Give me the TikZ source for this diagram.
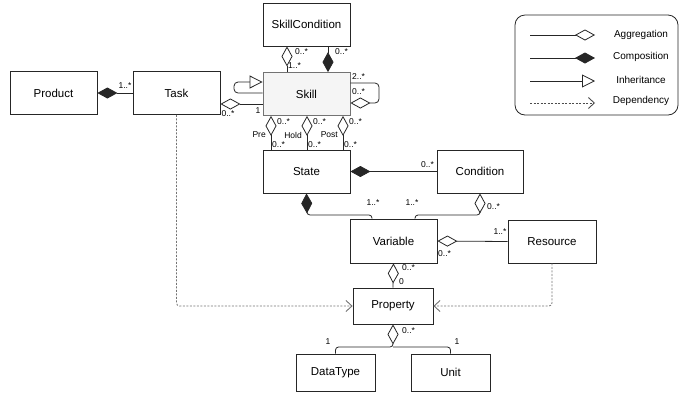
\documentclass[tikz,border=0pt]{standalone}
\usepackage{fontspec}
\setmainfont{Liberation Sans}
\usetikzlibrary{arrows.meta}

\begin{document}
\begin{tikzpicture}[x=1pt, y=-1pt,
    cls/.style={draw=black!85, line width=0.8pt, fill=white, minimum width=87pt,
      minimum height=43pt, inner sep=0pt, font=\fontsize{11.5}{13}\selectfont},
    mult/.style={inner sep=1pt, font=\fontsize{8.5}{10}\selectfont},
    legtext/.style={inner sep=1pt, font=\fontsize{10}{12}\selectfont},
    link/.style={draw=black!85, line width=0.8pt},
    agg/.style={link, -{Diamond[open, length=20pt, width=11pt]}},
    comp/.style={link, -{Diamond[length=20pt, width=11pt]}},
    inh/.style={link, -{Triangle[open, length=13pt, width=13pt]}},
    dep/.style={link, draw=black!55, dash pattern=on 2pt off 1.5pt,
      -{Straight Barb[length=6pt, width=11pt, line width=0.9pt]}},
  ]
  \useasboundingbox (0,0) rectangle (679,392);

  % Classes
  \node[cls] (skillcond) at (306.5,24.5) {SkillCondition};
  \node[cls, fill=black!4, draw=black!55] (skill) at (306.5,94) {Skill};
  \node[cls] (product) at (53.5,93) {Product};
  \node[cls] (task) at (176.5,93) {Task};
  \node[cls] (state) at (306.5,171.5) {State};
  \node[cls, minimum width=86pt] (condition) at (480,171.5) {Condition};
  \node[cls, minimum height=44pt] (variable) at (393.5,241) {Variable};
  \node[cls, minimum width=88pt] (resource) at (552,241.5) {Resource};
  \node[cls, minimum width=80pt, minimum height=36pt] (property) at (393,306) {Property};
  \node[cls, minimum width=79pt, minimum height=37pt] (datatype) at (335.5,372.5) {DataType};
  \node[cls, minimum width=79pt, minimum height=37pt] (unit) at (450.5,372.5) {Unit};

  % Product and Task
  \draw[comp] (task.west) -- (product.east);
  \node[mult] at (125,86) {1..*};
  \draw[agg] (skill.west |- 0,104) -- (task.east |- 0,104);
  \node[mult] at (258,111) {1};
  \node[mult] at (228,114) {0..*};

  % Skill self loops
  \draw[inh, rounded corners=4pt] (skill.west |- 0,93) -- (234,93) -- (234,82)
    -- (skill.west |- 0,82);
  \draw[agg, rounded corners=4pt] (skill.east |- 0,83) -- (379,83) -- (379,103)
    -- (skill.east |- 0,103);
  \node[mult, anchor=west] at (351,77) {2..*};
  \node[mult, anchor=west] at (351,92) {0..*};

  % SkillCondition and Skill
  \draw[agg] (skill.north -| 287,0) -- (skillcond.south -| 287,0);
  \node[mult, anchor=west] at (294,52) {0..*};
  \node[mult, anchor=west] at (287,66) {1..*};
  \draw[comp] (skillcond.south -| 328,0) -- (skill.north -| 328,0);
  \node[mult, anchor=west] at (334,52) {0..*};

  % Skill and State
  \foreach \x/\role in {271/Pre, 307/Hold, 343/Post} {
    \draw[agg] (state.north -| \x,0) -- (skill.south -| \x,0);
    \node[mult, anchor=west] at (\x+5,122) {0..*};
    \node[mult, anchor=west] at (\x,145) {0..*};
    \node[mult, anchor=east] at (\x-4,135) {\role};
  }

  % State, Condition and Variable
  \draw[comp] (condition.west) -- (state.east);
  \node[mult, anchor=east] at (435,165) {0..*};
  \draw[comp, rounded corners=3pt] (variable.north -| 372,0) -- (372,215) -- (307,215)
    -- (state.south);
  \node[mult] at (373,203) {1..*};
  \draw[agg, rounded corners=3pt] (variable.north -| 415,0) -- (415,215) -- (480,215)
    -- (condition.south);
  \node[mult] at (412,203) {1..*};
  \node[mult, anchor=west] at (486,207) {0..*};

  % Variable, Resource and Property
  \draw[agg] (resource.west) -- (variable.east);
  \node[mult] at (500,232) {1..*};
  \node[mult, anchor=west] at (437,254) {0..*};
  \draw[agg] (property.north) -- (variable.south);
  \node[mult, anchor=west] at (401,268) {0..*};
  \node[mult, anchor=west] at (398,282) {0};

  % Property, DataType and Unit
  \coordinate (split) at (393,347);
  \draw[link, rounded corners=3pt] (unit.north) -- (unit.north |- split) -- (split);
  \draw[agg, rounded corners=3pt] (datatype.north) -- (datatype.north |- split) -- (split)
    -- (property.south);
  \node[mult] at (328,342) {1};
  \node[mult] at (457,342) {1};
  \node[mult, anchor=west] at (401,331) {0..*};

  % Dependencies
  \draw[dep, rounded corners=3pt] (task.south) -- (task.south |- property.west)
    -- (property.west);
  \draw[dep, rounded corners=3pt] (resource.south) -- (resource.south |- property.east)
    -- (property.east);

  % Legend
  \node[draw=black!85, line width=0.8pt, rounded corners=10pt, minimum width=163pt,
    minimum height=100pt] (legend) at (596.5,65) {};
  \coordinate (agga) at (530,35);
  \coordinate (aggb) at (595,35);
  \coordinate (compa) at (530,58);
  \coordinate (compb) at (595,58);
  \coordinate (inha) at (530,81);
  \coordinate (inhb) at (595,81);
  \coordinate (depa) at (530,103);
  \coordinate (depb) at (595,103);
  \draw[agg] (agga) -- (aggb);
  \draw[comp] (compa) -- (compb);
  \draw[inh] (inha) -- (inhb);
  \draw[dep, draw=black!70] (depa) -- (depb);
  \node[legtext] at (641,35) {Aggregation};
  \node[legtext] at (641,57) {Composition};
  \node[legtext] at (641,80) {Inheritance};
  \node[legtext] at (641,101) {Dependency};
\end{tikzpicture}
\end{document}
